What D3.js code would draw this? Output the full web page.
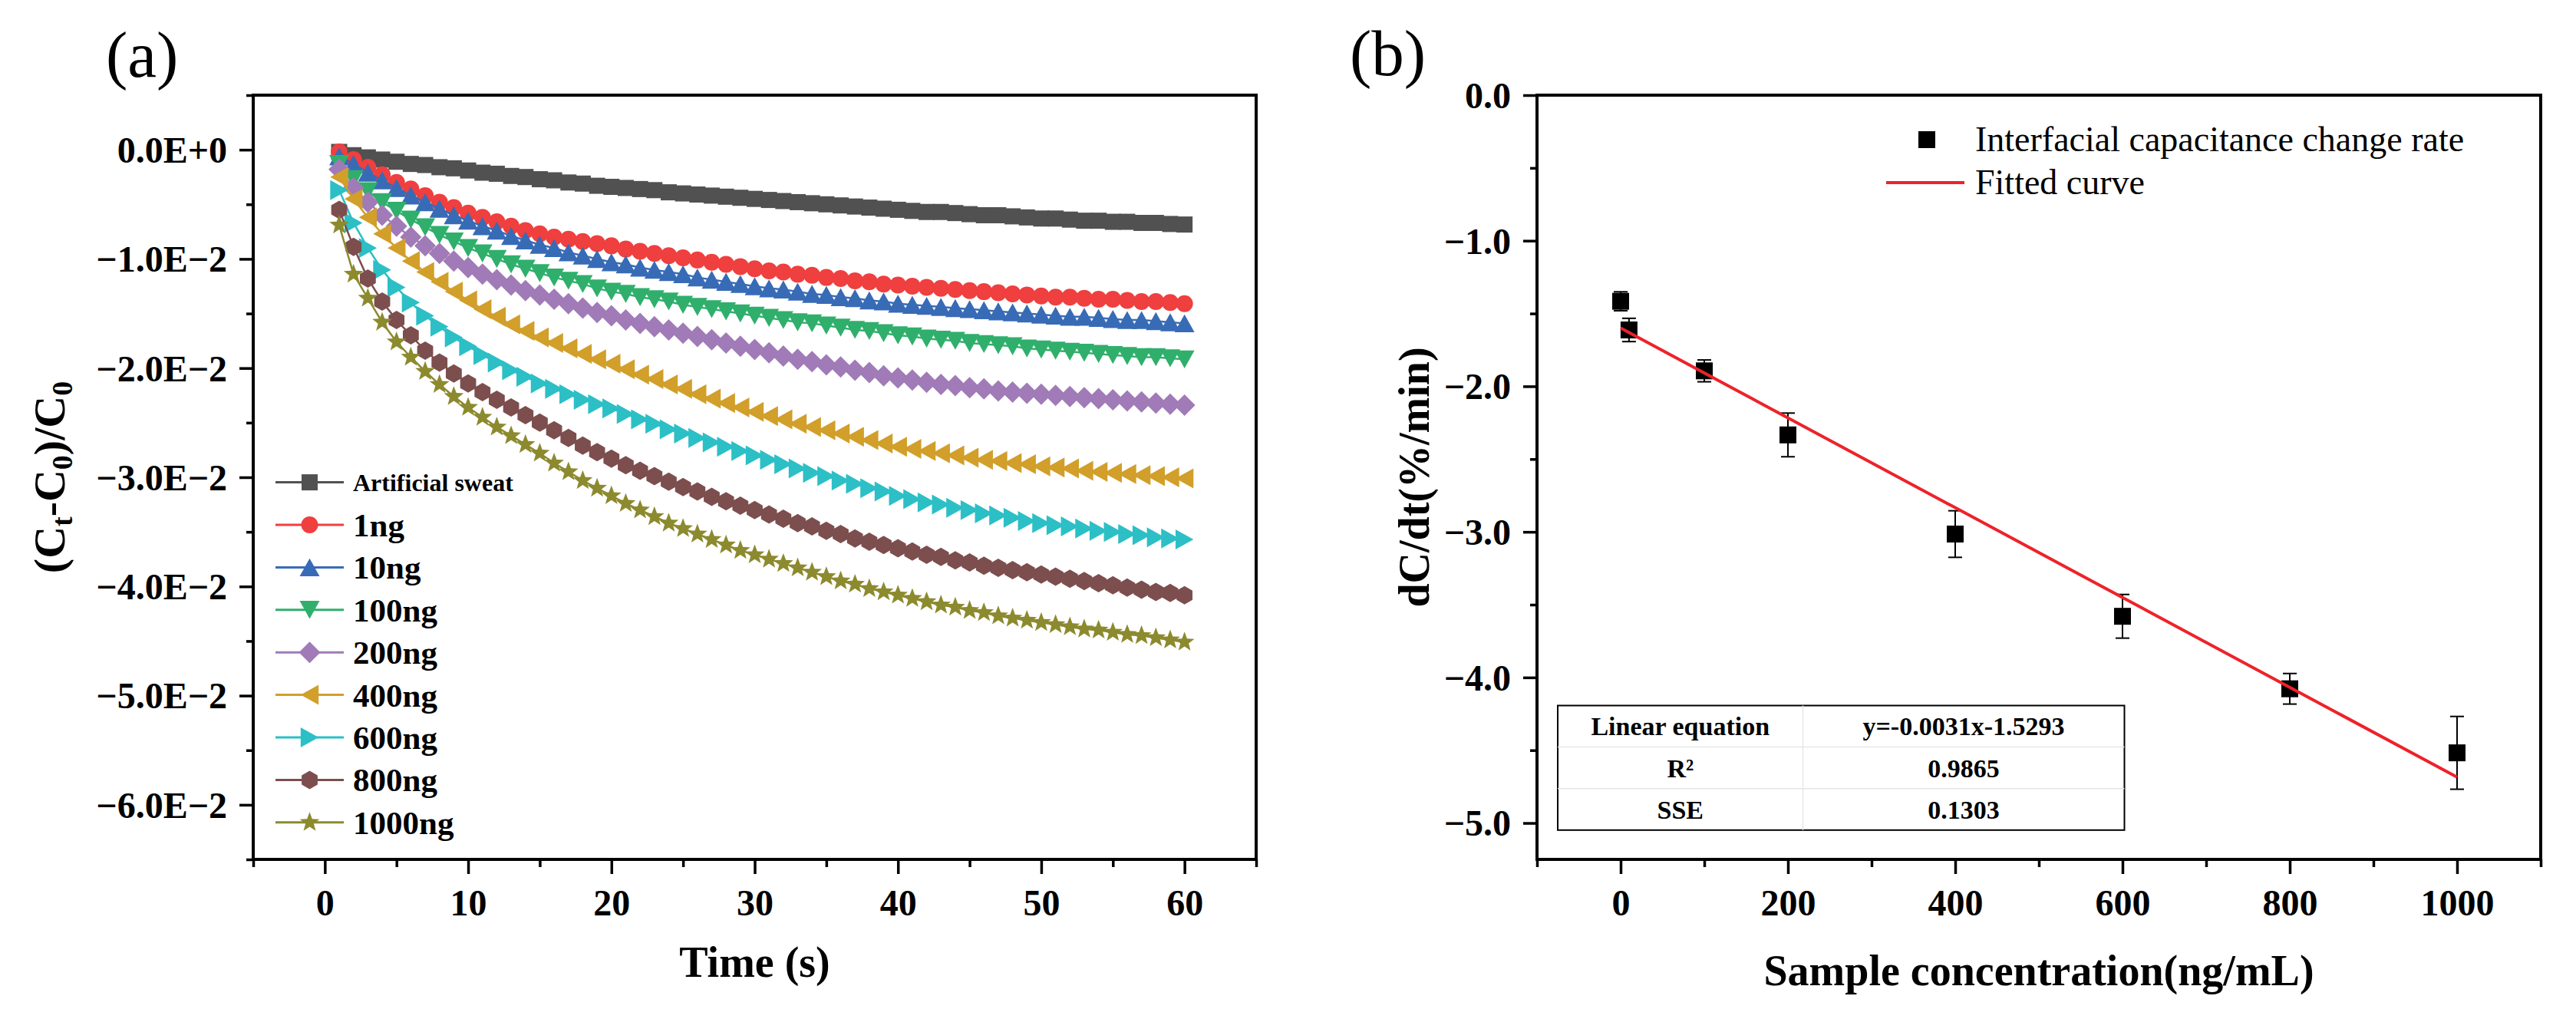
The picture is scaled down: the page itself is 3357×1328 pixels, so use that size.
<!DOCTYPE html>
<html><head><meta charset="utf-8">
<script src="https://cdn.jsdelivr.net/npm/d3@7"></script>
<style>body{margin:0;background:#fff}svg{display:block}text{font-family:'Liberation Serif','Times New Roman',serif}</style>
</head><body><svg id="c" width="3357" height="1328"></svg>
<script>
// ---------- DATA: panel (a) ----------
const seriesNames = ["Artificial sweat","1ng","10ng","100ng","200ng","400ng","600ng","800ng","1000ng"];
const seriesColors = ["#515151","#EF3F3F","#386BB6","#2FAF6B","#A07BB7","#D19F2A","#2CBFC6","#7D4E4E","#8C8A2E"];
const seriesMarkers = ["square","circle","triUp","triDown","diamond","triLeft","triRight","hexagon","star"];
const time = [1,2,3,4,5,6,7,8,9,10,11,12,13,14,15,16,17,18,19,20,21,22,23,24,25,26,27,28,29,30,
              31,32,33,34,35,36,37,38,39,40,41,42,43,44,45,46,47,48,49,50,51,52,53,54,55,56,57,58,59,60];
// (Ct-C0)/C0 in units of 1E-2
const sweat = [-0.02,-0.05,-0.07,-0.09,-0.11,-0.13,-0.14,-0.16,-0.17,-0.19,-0.21,-0.22,-0.24,-0.25,-0.27,-0.28,-0.30,-0.31,-0.33,-0.34,-0.35,-0.36,-0.37,-0.39,-0.40,-0.41,-0.42,-0.43,-0.44,-0.45,-0.46,-0.47,-0.48,-0.49,-0.50,-0.51,-0.52,-0.53,-0.54,-0.55,-0.56,-0.57,-0.57,-0.58,-0.59,-0.60,-0.60,-0.61,-0.62,-0.63,-0.63,-0.64,-0.65,-0.65,-0.66,-0.66,-0.67,-0.67,-0.68,-0.685];
const ng1 = [-0.02,-0.09,-0.16,-0.23,-0.30,-0.36,-0.42,-0.48,-0.53,-0.58,-0.62,-0.66,-0.70,-0.74,-0.77,-0.80,-0.82,-0.84,-0.86,-0.88,-0.91,-0.93,-0.95,-0.97,-0.99,-1.01,-1.03,-1.05,-1.07,-1.09,-1.11,-1.12,-1.14,-1.15,-1.17,-1.18,-1.20,-1.21,-1.23,-1.24,-1.25,-1.26,-1.27,-1.28,-1.29,-1.30,-1.31,-1.32,-1.33,-1.34,-1.35,-1.35,-1.36,-1.37,-1.37,-1.38,-1.39,-1.39,-1.40,-1.41];
const ng10 = [-0.06,-0.13,-0.21,-0.28,-0.35,-0.42,-0.48,-0.54,-0.60,-0.65,-0.70,-0.74,-0.79,-0.83,-0.87,-0.90,-0.94,-0.97,-1.00,-1.03,-1.05,-1.08,-1.10,-1.12,-1.14,-1.17,-1.19,-1.21,-1.23,-1.25,-1.27,-1.28,-1.30,-1.32,-1.33,-1.35,-1.36,-1.38,-1.39,-1.41,-1.42,-1.43,-1.44,-1.45,-1.46,-1.47,-1.48,-1.49,-1.50,-1.51,-1.52,-1.53,-1.53,-1.54,-1.55,-1.56,-1.56,-1.57,-1.58,-1.59];
const ng100 = [-0.13,-0.27,-0.38,-0.48,-0.56,-0.64,-0.71,-0.78,-0.84,-0.90,-0.95,-1.00,-1.05,-1.09,-1.13,-1.17,-1.20,-1.23,-1.27,-1.30,-1.32,-1.35,-1.37,-1.39,-1.42,-1.44,-1.46,-1.48,-1.50,-1.52,-1.54,-1.56,-1.58,-1.59,-1.61,-1.63,-1.65,-1.66,-1.68,-1.70,-1.71,-1.73,-1.74,-1.75,-1.77,-1.78,-1.79,-1.80,-1.82,-1.83,-1.84,-1.85,-1.86,-1.87,-1.88,-1.89,-1.90,-1.90,-1.91,-1.92];
const ng200 = [-0.18,-0.35,-0.48,-0.60,-0.70,-0.80,-0.88,-0.95,-1.02,-1.08,-1.14,-1.19,-1.24,-1.29,-1.33,-1.37,-1.41,-1.45,-1.49,-1.52,-1.56,-1.59,-1.62,-1.65,-1.68,-1.71,-1.74,-1.77,-1.80,-1.83,-1.86,-1.89,-1.92,-1.94,-1.97,-1.99,-2.02,-2.04,-2.07,-2.09,-2.11,-2.13,-2.15,-2.16,-2.18,-2.19,-2.21,-2.22,-2.23,-2.24,-2.25,-2.26,-2.27,-2.28,-2.29,-2.30,-2.31,-2.32,-2.33,-2.34];
const ng400 = [-0.25,-0.45,-0.62,-0.77,-0.90,-1.02,-1.12,-1.21,-1.30,-1.38,-1.46,-1.53,-1.60,-1.66,-1.72,-1.77,-1.82,-1.87,-1.92,-1.96,-2.01,-2.06,-2.10,-2.15,-2.19,-2.24,-2.28,-2.32,-2.36,-2.40,-2.44,-2.47,-2.51,-2.54,-2.57,-2.60,-2.63,-2.66,-2.69,-2.72,-2.74,-2.76,-2.78,-2.80,-2.82,-2.84,-2.85,-2.87,-2.88,-2.90,-2.91,-2.92,-2.94,-2.95,-2.96,-2.97,-2.98,-2.99,-3.00,-3.01];
const ng600 = [-0.37,-0.67,-0.90,-1.10,-1.26,-1.40,-1.52,-1.62,-1.72,-1.80,-1.88,-1.95,-2.02,-2.08,-2.14,-2.19,-2.24,-2.29,-2.33,-2.37,-2.42,-2.47,-2.51,-2.56,-2.60,-2.64,-2.68,-2.72,-2.76,-2.80,-2.84,-2.88,-2.92,-2.96,-2.99,-3.03,-3.06,-3.10,-3.13,-3.17,-3.20,-3.23,-3.25,-3.28,-3.30,-3.33,-3.35,-3.37,-3.40,-3.42,-3.44,-3.45,-3.47,-3.49,-3.50,-3.52,-3.53,-3.55,-3.56,-3.57];
const ng800 = [-0.55,-0.89,-1.18,-1.39,-1.56,-1.70,-1.84,-1.95,-2.05,-2.14,-2.22,-2.29,-2.36,-2.43,-2.50,-2.57,-2.64,-2.71,-2.77,-2.83,-2.89,-2.94,-2.99,-3.04,-3.09,-3.13,-3.18,-3.22,-3.26,-3.30,-3.34,-3.38,-3.42,-3.45,-3.49,-3.52,-3.56,-3.59,-3.62,-3.65,-3.68,-3.71,-3.73,-3.76,-3.78,-3.81,-3.83,-3.85,-3.87,-3.89,-3.91,-3.93,-3.95,-3.97,-3.99,-4.01,-4.03,-4.05,-4.06,-4.08];
const ng1000 = [-0.69,-1.14,-1.36,-1.58,-1.76,-1.90,-2.03,-2.15,-2.26,-2.36,-2.45,-2.54,-2.62,-2.70,-2.78,-2.87,-2.95,-3.03,-3.10,-3.17,-3.24,-3.30,-3.36,-3.42,-3.47,-3.52,-3.57,-3.62,-3.67,-3.71,-3.75,-3.79,-3.83,-3.87,-3.91,-3.95,-3.98,-4.02,-4.05,-4.08,-4.11,-4.14,-4.17,-4.19,-4.22,-4.24,-4.27,-4.29,-4.31,-4.33,-4.35,-4.37,-4.39,-4.40,-4.42,-4.44,-4.45,-4.47,-4.49,-4.51];
const seriesValues = [sweat, ng1, ng10, ng100, ng200, ng400, ng600, ng800, ng1000];

const timeTicks = [0,10,20,30,40,50,60];
const timeMinor = [-5,5,15,25,35,45,55,65];
const ratioTicks = [0,-1,-2,-3,-4,-5,-6];
const ratioTickLabels = ["0.0E+0","\u22121.0E\u22122","\u22122.0E\u22122","\u22123.0E\u22122","\u22124.0E\u22122","\u22125.0E\u22122","\u22126.0E\u22122"];
const ratioMinor = [0.5,-0.5,-1.5,-2.5,-3.5,-4.5,-5.5,-6.5];

// ---------- DATA: panel (b) ----------
const conc = [0,10,100,200,400,600,800,1000];
const rate = [-1.416,-1.613,-1.894,-2.334,-3.015,-3.58,-4.078,-4.518];
const rateErr = [0.065,0.08,0.075,0.15,0.16,0.15,0.105,0.25];
const fitConc = [0,1000];
const fitRate = [-1.60,-4.685];
const concTicks = [0,200,400,600,800,1000];
const concMinor = [-100,100,300,500,700,900,1100];
const rateTicks = [0,-1,-2,-3,-4,-5];
const rateTickLabels = ["0.0","\u22121.0","\u22122.0","\u22123.0","\u22124.0","\u22125.0"];
const rateMinor = [-0.5,-1.5,-2.5,-3.5,-4.5];
const legendB = ["Interfacial capacitance change rate","Fitted curve"];
const tableRows = [["Linear equation","y=-0.0031x-1.5293"],["R\u00B2","0.9865"],["SSE","0.1303"]];

// ---------- drawing ----------
const svg = d3.select("#c");

function poly(pts){return {draw(c){c.moveTo(pts[0][0],pts[0][1]);for(let i=1;i<pts.length;i++)c.lineTo(pts[i][0],pts[i][1]);c.closePath();}};}
const symbolTypes = {
  square:{draw(c,s){c.rect(-s/2,-s/2,s,s);}},
  circle:{draw(c,s){c.moveTo(s/2,0);c.arc(0,0,s/2,0,2*Math.PI);}},
  triUp:{draw(c,s){const h=s*0.45,w=s/2;poly([[0,-h],[w,h],[-w,h]]).draw(c);}},
  triDown:{draw(c,s){const h=s*0.45,w=s/2;poly([[0,h],[w,-h],[-w,-h]]).draw(c);}},
  triLeft:{draw(c,s){const h=s*0.45,w=s/2;poly([[-h,0],[h,-w],[h,w]]).draw(c);}},
  triRight:{draw(c,s){const h=s*0.45,w=s/2;poly([[h,0],[-h,-w],[-h,w]]).draw(c);}},
  diamond:{draw(c,s){const r=s/2;poly([[0,-r],[r,0],[0,r],[-r,0]]).draw(c);}},
  hexagon:{draw(c,s){const r=s/2,p=[];for(let k=0;k<6;k++){const a=-Math.PI/2+k*Math.PI/3;p.push([r*Math.cos(a),r*Math.sin(a)]);}poly(p).draw(c);}},
  star:{draw(c,s){const R=s/2,r=R*0.42,p=[];for(let k=0;k<10;k++){const a=-Math.PI/2+k*Math.PI/5,q=k%2?r:R;p.push([q*Math.cos(a),q*Math.sin(a)]);}poly(p).draw(c);}}
};
const symbolSize = {square:21,circle:22,triUp:26,triDown:26,diamond:28,triLeft:26,triRight:26,hexagon:24,star:27};
const symPath = t => d3.symbol().type(symbolTypes[t]).size(symbolSize[t])();

function axes(g, x, y, xMajor, xMinor, xFmt, yMajor, yMinor, yFmt){
  const [x0,x1]=x.range(), [y0,y1]=y.range();
  const style = sel => {
    sel.select(".domain").remove();
    sel.selectAll("line").attr("stroke","#000").attr("stroke-width",3.5);
    sel.selectAll("text").attr("fill","#000").style("font-family","'Liberation Serif','Times New Roman',serif")
      .style("font-weight","bold").style("font-size","48px");
  };
  const xa = g.append("g").attr("transform",`translate(0,${y0})`)
    .call(d3.axisBottom(x).tickValues(xMajor).tickSize(19).tickFormat(xFmt)).call(style);
  xa.selectAll("text").attr("y",73).attr("dy",null);
  g.append("g").attr("transform",`translate(0,${y0})`)
    .call(d3.axisBottom(x).tickValues(xMinor).tickSize(10).tickFormat("")).call(style);
  g.append("g").attr("transform",`translate(${x0},0)`)
    .call(d3.axisLeft(y).tickValues(yMajor).tickSize(18).tickPadding(16).tickFormat(yFmt)).call(style)
    .selectAll("text").attr("dy","0.34em");
  g.append("g").attr("transform",`translate(${x0},0)`)
    .call(d3.axisLeft(y).tickValues(yMinor).tickSize(9).tickFormat("")).call(style);
  g.append("rect").attr("x",x0).attr("y",y1).attr("width",x1-x0).attr("height",y0-y1)
    .attr("fill","none").attr("stroke","#000").attr("stroke-width",4);
}

// ===== Panel (a) =====
const xA = d3.scaleLinear([-5,65],[330,1637]);
const yA = d3.scaleLinear([-6.5,0.5],[1120,124]);
const gA = svg.append("g");
axes(gA, xA, yA, timeTicks, timeMinor, d=>String(d), ratioTicks, ratioMinor, (d,i)=>ratioTickLabels[i]);

const lineA = d3.line().x((d,i)=>xA(time[i])).y(d=>yA(d));
seriesValues.forEach((vals,si)=>{
  const g = gA.append("g");
  g.append("path").attr("d",lineA(vals)).attr("fill","none").attr("stroke",seriesColors[si]).attr("stroke-width",2.5);
  g.selectAll("path.m").data(vals).join("path").attr("class","m")
    .attr("d",symPath(seriesMarkers[si]))
    .attr("transform",(d,i)=>`translate(${xA(time[i])},${yA(d)})`)
    .attr("fill",seriesColors[si]);
});

// legend (a)
const legA = gA.append("g");
seriesNames.forEach((n,i)=>{
  const yy = 628.6 + i*55.4;
  legA.append("line").attr("x1",359).attr("x2",448).attr("y1",yy).attr("y2",yy)
    .attr("stroke",seriesColors[i]).attr("stroke-width",3);
  legA.append("path").attr("d",symPath(seriesMarkers[i])).attr("transform",`translate(403.5,${yy})`).attr("fill",seriesColors[i]);
  legA.append("text").attr("x",460).attr("y",yy).attr("dy","0.35em")
    .style("font-weight","bold").style("font-size", i===0?"32px":"43px").text(n);
});

// titles (a)
gA.append("text").attr("x",983.5).attr("y",1273).attr("text-anchor","middle")
  .style("font-weight","bold").style("font-size","56px").text("Time (s)");
const ylabA = gA.append("text").attr("transform","translate(84,622) rotate(-90)").attr("text-anchor","middle")
  .style("font-weight","bold").style("font-size","58px");
ylabA.append("tspan").text("(C");
ylabA.append("tspan").attr("baseline-shift","-25%").style("font-size","38px").text("t");
ylabA.append("tspan").text("-C");
ylabA.append("tspan").attr("baseline-shift","-25%").style("font-size","38px").text("0");
ylabA.append("tspan").text(")/C");
ylabA.append("tspan").attr("baseline-shift","-25%").style("font-size","38px").text("0");
svg.append("text").attr("x",138).attr("y",100).style("font-size","85px").text("(a)");

// ===== Panel (b) =====
const xB = d3.scaleLinear([-100,1100],[2003,3311]);
const yB = d3.scaleLinear([-5.25,0],[1120,124]);
const gB = svg.append("g");
axes(gB, xB, yB, concTicks, concMinor, d=>String(d), rateTicks, rateMinor, (d,i)=>rateTickLabels[i]);

// table
const tb = {x0:2030, x1:2768.5, xm:2349.5, y0:919.5, rowH:54.1};
const tg = gB.append("g");
tg.append("rect").attr("x",tb.x0).attr("y",tb.y0).attr("width",tb.x1-tb.x0).attr("height",tb.rowH*tableRows.length)
  .attr("fill","#fff").attr("stroke","#000").attr("stroke-width",2);
tg.append("line").attr("x1",tb.xm).attr("x2",tb.xm).attr("y1",tb.y0).attr("y2",tb.y0+tb.rowH*tableRows.length)
  .attr("stroke","#e6e6e6").attr("stroke-width",1.5);
tableRows.forEach((r,i)=>{
  if(i>0) tg.append("line").attr("x1",tb.x0).attr("x2",tb.x1).attr("y1",tb.y0+i*tb.rowH).attr("y2",tb.y0+i*tb.rowH)
    .attr("stroke","#e6e6e6").attr("stroke-width",1.5);
  const cy = tb.y0 + (i+0.5)*tb.rowH;
  tg.append("text").attr("x",(tb.x0+tb.xm)/2).attr("y",cy).attr("dy","0.35em").attr("text-anchor","middle")
    .style("font-weight","bold").style("font-size","34px").text(r[0]);
  tg.append("text").attr("x",(tb.xm+tb.x1)/2).attr("y",cy).attr("dy","0.35em").attr("text-anchor","middle")
    .style("font-weight","bold").style("font-size","34px").text(r[1]);
});

// error bars + points
const pg = gB.append("g");
conc.forEach((c,i)=>{
  const x = xB(c), yt = yB(rate[i]+rateErr[i]), yb = yB(rate[i]-rateErr[i]);
  pg.append("line").attr("x1",x).attr("x2",x).attr("y1",yt).attr("y2",yb).attr("stroke","#000").attr("stroke-width",2);
  [yt,yb].forEach(yy=>pg.append("line").attr("x1",x-9).attr("x2",x+9).attr("y1",yy).attr("y2",yy).attr("stroke","#000").attr("stroke-width",2));
});
pg.selectAll("rect.pt").data(rate).join("rect").attr("class","pt")
  .attr("x",(d,i)=>xB(conc[i])-11).attr("y",d=>yB(d)-11).attr("width",22).attr("height",22).attr("fill","#000");
// fit line
gB.append("path").attr("d",d3.line().x((d,i)=>xB(fitConc[i])).y(d=>yB(d))(fitRate))
  .attr("fill","none").attr("stroke","#EE2229").attr("stroke-width",4);

// legend (b)
const lg = gB.append("g");
lg.append("rect").attr("x",2500).attr("y",171).attr("width",22).attr("height",22).attr("fill","#000");
lg.append("text").attr("x",2574).attr("y",197).style("font-size","46px").text(legendB[0]);
lg.append("line").attr("x1",2458).attr("x2",2560).attr("y1",238).attr("y2",238).attr("stroke","#EE2229").attr("stroke-width",4);
lg.append("text").attr("x",2574).attr("y",253).style("font-size","46px").text(legendB[1]);

// titles (b)
gB.append("text").attr("x",2657).attr("y",1284).attr("text-anchor","middle")
  .style("font-weight","bold").style("font-size","56px").text("Sample concentration(ng/mL)");
gB.append("text").attr("transform","translate(1862,622) rotate(-90)").attr("text-anchor","middle")
  .style("font-weight","bold").style("font-size","56px").text("dC/dt(%/min)");
svg.append("text").attr("x",1759).attr("y",98).style("font-size","85px").text("(b)");
</script>
</body></html>
